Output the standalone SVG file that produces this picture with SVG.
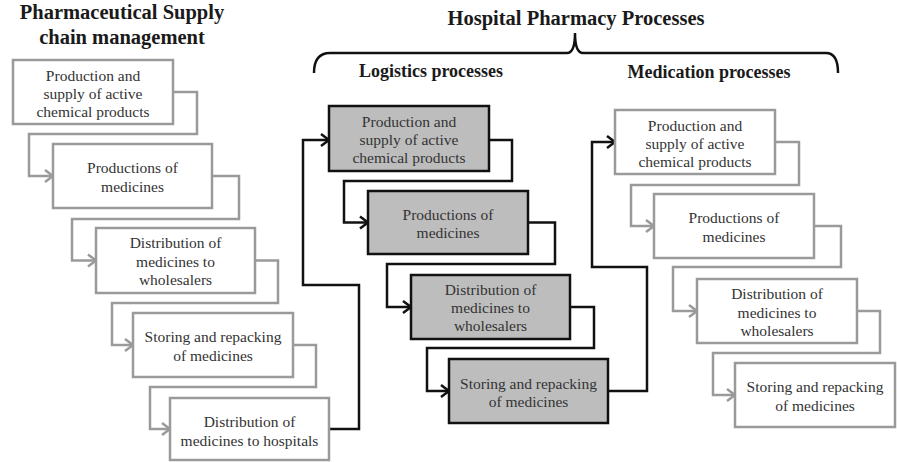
<svg xmlns="http://www.w3.org/2000/svg" width="897" height="462" viewBox="0 0 897 462">
<defs>
<marker id="ag" markerUnits="userSpaceOnUse" markerWidth="12" markerHeight="14" refX="9" refY="6" orient="auto" overflow="visible"><path d="M1,0 L9,6 L1,12" fill="none" stroke="#9a9a9a" stroke-width="2.5"/></marker>
<marker id="ab" markerUnits="userSpaceOnUse" markerWidth="12" markerHeight="14" refX="9" refY="6" orient="auto" overflow="visible"><path d="M1,0 L9,6 L1,12" fill="none" stroke="#111" stroke-width="2.5"/></marker>
</defs>
<style>
.wb{fill:#fff;stroke:#9a9a9a;stroke-width:2.5}
.gb{fill:#bdbdbd;stroke:#111;stroke-width:2.5}
.t{font-family:"Liberation Serif","Times New Roman",serif;font-size:15.5px;fill:#333;text-anchor:middle}
.h{font-family:"Liberation Serif","Times New Roman",serif;font-weight:bold;fill:#1a1a1a;text-anchor:middle}
.cg{fill:none;stroke:#9a9a9a;stroke-width:2.5;marker-end:url(#ag)}
.cb{fill:none;stroke:#111;stroke-width:2.5;marker-end:url(#ab)}
</style>
<g id="headers">
<text class="h" x="122" y="19" font-size="20.5">Pharmaceutical Supply</text>
<text class="h" x="122" y="44" font-size="20.5">chain management</text>
<text class="h" x="576" y="25" font-size="20.5">Hospital Pharmacy Processes</text>
<text class="h" x="431" y="77" font-size="18">Logistics processes</text>
<text class="h" x="709" y="78" font-size="18">Medication processes</text>
<path d="M314,73 Q314,53 330,53 L567,53 Q575,53 575,33 Q575,53 583,53 L826,53 Q838,53 838,73" fill="none" stroke="#111" stroke-width="2.5"/>
</g>
<g id="connectors">
<path class="cg" d="M173,92 H197 V134 H29 V176 H53"/>
<path class="cg" d="M212,176 H239 V219 H72 V260.5 H96"/>
<path class="cg" d="M255,260.5 H278 V303 H112 V345 H133"/>
<path class="cg" d="M293,345 H316 V387 H150 V429 H170"/>
<path class="cb" d="M329,429 H359 V285 H303 V140 H329"/>
<path class="cb" d="M489,140 H512 V181 H344 V222.5 H368"/>
<path class="cb" d="M528,222.5 H555 V264 H387 V307 H411"/>
<path class="cb" d="M570,307 H594 V348 H427 V391 H449"/>
<path class="cb" d="M608,391 H647 V267 H592 V142 H615"/>
<path class="cg" d="M775,142 H799 V185 H631 V226 H654"/>
<path class="cg" d="M814,226 H841 V267 H673 V311 H697"/>
<path class="cg" d="M857,311 H880 V353 H713 V395 H735"/>
</g>
<g id="L1"><rect class="wb" x="13" y="60" width="160" height="64"/><text class="t" x="93" y="81">Production and</text><text class="t" x="93" y="99">supply of active</text><text class="t" x="93" y="117">chemical products</text></g>
<g id="L2"><rect class="wb" x="53" y="144" width="159" height="64"/><text class="t" x="132.5" y="173">Productions of</text><text class="t" x="132.5" y="192">medicines</text></g>
<g id="L3"><rect class="wb" x="96" y="228" width="159" height="65"/><text class="t" x="175.5" y="248">Distribution of</text><text class="t" x="175.5" y="266.5">medicines to</text><text class="t" x="175.5" y="285">wholesalers</text></g>
<g id="L4"><rect class="wb" x="133" y="313" width="160" height="64"/><text class="t" x="213" y="342">Storing and repacking</text><text class="t" x="213" y="361">of medicines</text></g>
<g id="L5"><rect class="wb" x="170" y="398" width="159" height="62"/><text class="t" x="249.5" y="427">Distribution of</text><text class="t" x="249.5" y="445.5">medicines to hospitals</text></g>
<g id="P1"><rect class="gb" x="329" y="106" width="160" height="65"/><text class="t" x="409" y="127">Production and</text><text class="t" x="409" y="145">supply of active</text><text class="t" x="409" y="163">chemical products</text></g>
<g id="P2"><rect class="gb" x="368" y="191" width="160" height="63"/><text class="t" x="448" y="220">Productions of</text><text class="t" x="448" y="238">medicines</text></g>
<g id="P3"><rect class="gb" x="411" y="275" width="159" height="64"/><text class="t" x="490.5" y="295">Distribution of</text><text class="t" x="490.5" y="313">medicines to</text><text class="t" x="490.5" y="331">wholesalers</text></g>
<g id="P4"><rect class="gb" x="449" y="359" width="159" height="64"/><text class="t" x="528.5" y="389">Storing and repacking</text><text class="t" x="528.5" y="407">of medicines</text></g>
<g id="M1"><rect class="wb" x="615" y="110" width="160" height="64"/><text class="t" x="695" y="131">Production and</text><text class="t" x="695" y="149">supply of active</text><text class="t" x="695" y="167">chemical products</text></g>
<g id="M2"><rect class="wb" x="654" y="194" width="160" height="64"/><text class="t" x="734" y="223">Productions of</text><text class="t" x="734" y="242">medicines</text></g>
<g id="M3"><rect class="wb" x="697" y="279" width="160" height="64"/><text class="t" x="777" y="299">Distribution of</text><text class="t" x="777" y="317.5">medicines to</text><text class="t" x="777" y="336">wholesalers</text></g>
<g id="M4"><rect class="wb" x="735" y="363" width="160" height="64"/><text class="t" x="815" y="392">Storing and repacking</text><text class="t" x="815" y="411">of medicines</text></g>
</svg>
